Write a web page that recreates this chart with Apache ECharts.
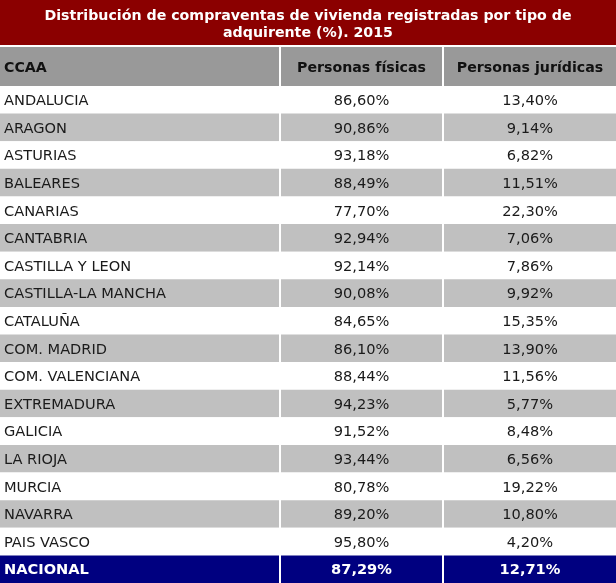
<!DOCTYPE html>
<html>
<head>
<meta charset="utf-8">
<script src="https://cdn.jsdelivr.net/npm/echarts@6/dist/echarts.min.js"></script>
<style>
  html, body { margin: 0; padding: 0; background: #fff; }
  #chart { width: 616px; height: 583px; }
</style>
</head>
<body>
<div id="chart"></div>
<script>
// datos de la tabla
const titulo = ['Distribución de compraventas de vivienda registradas por tipo de', 'adquirente (%). 2015']
const columnas = ['CCAA', 'Personas físicas', 'Personas jurídicas']
const regiones = [
  'ANDALUCIA', 'ARAGON', 'ASTURIAS', 'BALEARES', 'CANARIAS', 'CANTABRIA',
  'CASTILLA Y LEON', 'CASTILLA-LA MANCHA', 'CATALUÑA', 'COM. MADRID',
  'COM. VALENCIANA', 'EXTREMADURA', 'GALICIA', 'LA RIOJA', 'MURCIA',
  'NAVARRA', 'PAIS VASCO', 'NACIONAL'
]
const fisicas = [
  86.60, 90.86, 93.18, 88.49, 77.70, 92.94, 92.14, 90.08, 84.65, 86.10,
  88.44, 94.23, 91.52, 93.44, 80.78, 89.20, 95.80, 87.29
]
const juridicas = [
  13.40, 9.14, 6.82, 11.51, 22.30, 7.06, 7.86, 9.92, 15.35, 13.90,
  11.56, 5.77, 8.48, 6.56, 19.22, 10.80, 4.20, 12.71
]

// bordes de columna (px)
const bordes = [0, 280, 443, 616]
const FONT = '"DejaVu Sans", Verdana, sans-serif'

const fmt = v => v.toFixed(2).replace('.', ',') + '%'

// celdas: [columna, fila]
const celdas = []
regiones.forEach((r, i) => {
  for (let c = 0; c < 3; c++) celdas.push([c, i])
})

const textoCelda = (c, i) => {
  if (c === 0) return regiones[i]
  return fmt(c === 1 ? fisicas[i] : juridicas[i])
}

const renderCelda = (params, api) => {
  const c = api.value(0)
  const i = api.value(1)
  const centro = api.coord([bordes[c], i])
  const h = api.size([0, 1])[1]
  const x0 = c === 0 ? centro[0] : centro[0] + 1
  const x1 = api.coord([bordes[c + 1], i])[0] - (c < 2 ? 1 : 0)
  const total = regiones[i] === 'NACIONAL'
  const fondo = total ? '#000080' : (i % 2 ? '#c0c0c0' : '#ffffff')
  return {
    type: 'group',
    children: [
      {
        type: 'rect',
        shape: { x: x0, y: centro[1] - h / 2, width: x1 - x0, height: h },
        style: { fill: fondo }
      },
      {
        type: 'text',
        x: c === 0 ? x0 + 4 : (x0 + x1) / 2,
        y: centro[1] + 1.5,
        style: {
          text: textoCelda(c, i),
          fill: total ? '#ffffff' : '#1a1a1a',
          font: (total ? 'bold ' : '') + '14.6px ' + FONT,
          align: c === 0 ? 'left' : 'center',
          verticalAlign: 'middle'
        }
      }
    ]
  }
}

// cabecera y título como elementos gráficos
const graficos = [
  { type: 'rect', shape: { x: 0, y: 0, width: 616, height: 45 }, style: { fill: '#8b0000' } },
  {
    type: 'text', x: 308, y: 16,
    style: { text: titulo[0], fill: '#fff', font: 'bold 14.2px ' + FONT, align: 'center', verticalAlign: 'middle' }
  },
  {
    type: 'text', x: 308, y: 33,
    style: { text: titulo[1], fill: '#fff', font: 'bold 14.2px ' + FONT, align: 'center', verticalAlign: 'middle' }
  }
]
columnas.forEach((t, c) => {
  const x0 = c === 0 ? bordes[c] : bordes[c] + 1
  const x1 = bordes[c + 1] - (c < 2 ? 1 : 0)
  graficos.push({
    type: 'rect', shape: { x: x0, y: 47, width: x1 - x0, height: 39 }, style: { fill: '#999999' }
  })
  graficos.push({
    type: 'text', x: c === 0 ? x0 + 4 : (x0 + x1) / 2, y: 68,
    style: { text: t, fill: '#111', font: 'bold 14.2px ' + FONT, align: c === 0 ? 'left' : 'center', verticalAlign: 'middle' }
  })
})

const chart = echarts.init(document.getElementById('chart'))
chart.setOption({
  animation: false,
  grid: { left: 0, right: 0, top: 86, height: 27.75 * regiones.length },
  xAxis: { type: 'value', min: 0, max: 616, show: false },
  yAxis: { type: 'category', data: regiones, inverse: true, show: false },
  graphic: graficos,
  series: [{
    type: 'custom',
    renderItem: renderCelda,
    data: celdas,
    clip: false
  }]
})
window.addEventListener('resize', () => chart.resize())
</script>
</body>
</html>
